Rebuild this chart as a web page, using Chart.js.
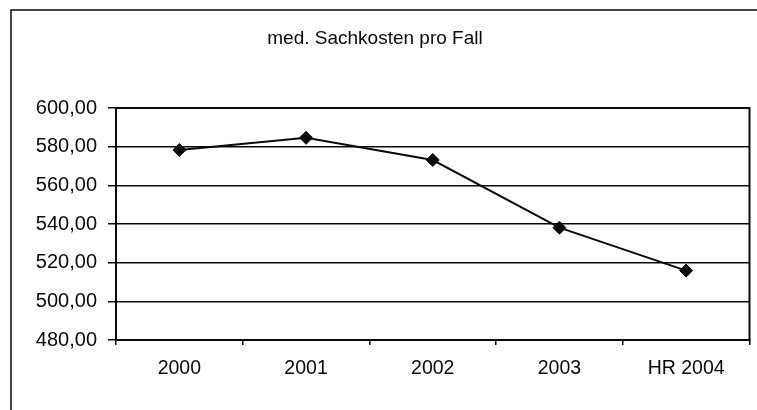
<!DOCTYPE html>
<html>
<head>
<meta charset="utf-8">
<script src="https://cdn.jsdelivr.net/npm/chart.js@4/dist/chart.umd.min.js"></script>
<style>
  html, body { margin: 0; padding: 0; background: #fff; }
  canvas { display: block; }
</style>
</head>
<body>
<canvas id="chart" width="757" height="410"></canvas>
<script>
const categories = ["2000", "2001", "2002", "2003", "HR 2004"];
const sachkosten = [578.3, 584.6, 573.1, 538.1, 515.9];
const yMin = 480;
const yMax = 600;
const yStep = 20;

const fontFamily = "'Liberation Sans', Arial, sans-serif";
const ink = "#0a0a0a";

// outer frame of the chart sheet and border of the plot area
const framePlugin = {
    id: "frame",
    beforeDraw(chart) {
        const c = chart.ctx;
        c.save();
        c.fillStyle = "#fff";
        c.fillRect(0, 0, chart.width, chart.height);
        c.strokeStyle = ink;
        c.lineWidth = 1.5;
        c.beginPath();
        c.moveTo(11, chart.height);
        c.lineTo(11, 10);
        c.lineTo(chart.width, 10);
        c.stroke();
        c.restore();
    },
    beforeDatasetsDraw(chart) {
        const a = chart.chartArea;
        const c = chart.ctx;
        c.save();
        c.strokeStyle = ink;
        c.lineWidth = 2;
        c.strokeRect(a.left, a.top, a.right - a.left, a.bottom - a.top);
        c.restore();
    },
};

new Chart(document.getElementById("chart").getContext("2d"), {
    type: "line",
    data: {
        labels: categories,
        datasets: [
            {
                label: "med. Sachkosten pro Fall",
                data: sachkosten,
                borderColor: ink,
                backgroundColor: ink,
                borderWidth: 2,
                pointStyle: "rectRot",
                pointRadius: 6.5,
                pointBorderWidth: 1,
                tension: 0,
            },
        ],
    },
    options: {
        responsive: false,
        animation: false,
        layout: {
            padding: { top: 10, right: 7, left: 0, bottom: 0 },
        },
        plugins: {
            legend: { display: false },
            tooltip: { enabled: false },
            title: {
                display: true,
                text: "med. Sachkosten pro Fall",
                color: ink,
                font: { family: fontFamily, size: 19, weight: "normal", lineHeight: 1.2 },
                padding: { top: 17, bottom: 58.2 },
            },
        },
        scales: {
            x: {
                offset: true,
                grid: {
                    offset: true,
                    drawOnChartArea: false,
                    drawTicks: true,
                    tickLength: 5,
                    color: ink,
                    lineWidth: 1.5,
                },
                border: { display: true, color: ink, width: 2 },
                ticks: {
                    color: ink,
                    padding: 12,
                    font: { family: fontFamily, size: 19.5 },
                    maxRotation: 0,
                },
                afterFit(scale) {
                    scale.height = 70;
                },
            },
            y: {
                min: yMin,
                max: yMax,
                grid: {
                    color: ink,
                    lineWidth: 1.5,
                    drawTicks: true,
                    tickLength: 8,
                },
                border: { display: true, color: ink, width: 2 },
                ticks: {
                    stepSize: yStep,
                    color: ink,
                    padding: 11,
                    font: { family: fontFamily, size: 20 },
                    callback: (value) => value.toFixed(2).replace(".", ","),
                },
                afterFit(scale) {
                    scale.width = 116;
                },
            },
        },
    },
    plugins: [framePlugin],
});
</script>
</body>
</html>
